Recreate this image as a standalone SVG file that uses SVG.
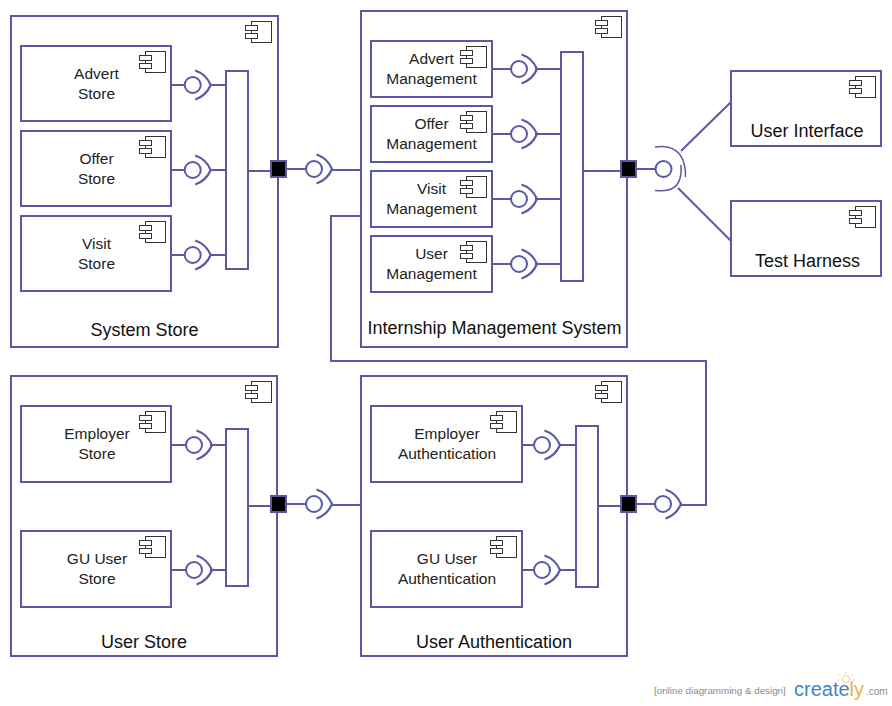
<svg xmlns="http://www.w3.org/2000/svg" width="892" height="706" viewBox="0 0 892 706">
<style>
.b{fill:#fff;stroke:#5b59a5;stroke-width:2}
.l{fill:none;stroke:#5b59a5;stroke-width:2}
.s{fill:none;stroke:#5b59a5;stroke-width:2.2}
.q{fill:#000;stroke:#5b59a5;stroke-width:2}
.i{fill:#fff;stroke:#333;stroke-width:1}
text{font-family:"Liberation Sans",Arial,sans-serif;fill:#222;text-anchor:middle}
.t{font-size:15.5px}
.h{font-size:18px;fill:#111}
</style>
<defs>
<g id="icon"><rect class="i" x="6" y="0" width="20" height="21"/><rect class="i" x="0" y="4" width="12" height="5"/><rect class="i" x="0" y="12" width="12" height="5"/></g>
<g id="ball"><circle class="l" cx="0" cy="0" r="8"/><path class="s" d="M2.5-14.5C10-12 15-7 18 0C15 7 10 12 2.5 14.5"/></g>
</defs>
<rect width="892" height="706" fill="#fff"/>
<g id="system-store"><rect class="b" x="11" y="16" width="267" height="331"/><use href="#icon" x="245.5" y="21.5"/><text class="h" x="144.500" y="336">System Store</text></g>
<g id="internship-management-system"><rect class="b" x="361" y="11" width="266" height="336"/><use href="#icon" x="595.5" y="16.5"/><text class="h" x="494.500" y="334">Internship Management System</text></g>
<g id="user-store"><rect class="b" x="11" y="376" width="266" height="280"/><use href="#icon" x="245.5" y="381.5"/><text class="h" x="144" y="648">User Store</text></g>
<g id="user-authentication"><rect class="b" x="361" y="376" width="266" height="280"/><use href="#icon" x="595.5" y="381.5"/><text class="h" x="494" y="648">User Authentication</text></g>
<g id="advert-store"><rect class="b" x="21" y="46" width="150" height="75"/><use href="#icon" x="139.5" y="51.5"/><text class="t" x="96.500" y="79">Advert</text><text class="t" x="96.500" y="99">Store</text></g>
<g id="offer-store"><rect class="b" x="21" y="131" width="150" height="75"/><use href="#icon" x="139.5" y="136.5"/><text class="t" x="96.500" y="164">Offer</text><text class="t" x="96.500" y="184">Store</text></g>
<g id="visit-store"><rect class="b" x="21" y="216" width="150" height="75"/><use href="#icon" x="139.5" y="221.5"/><text class="t" x="96.500" y="249">Visit</text><text class="t" x="96.500" y="269">Store</text></g>
<g id="advert-management"><rect class="b" x="371" y="41" width="121" height="56"/><use href="#icon" x="460.5" y="46.5"/><text class="t" x="431.500" y="64">Advert</text><text class="t" x="431.500" y="84">Management</text></g>
<g id="offer-management"><rect class="b" x="371" y="106" width="121" height="56"/><use href="#icon" x="460.5" y="111.5"/><text class="t" x="431.500" y="129">Offer</text><text class="t" x="431.500" y="149">Management</text></g>
<g id="visit-management"><rect class="b" x="371" y="171" width="121" height="56"/><use href="#icon" x="460.5" y="176.5"/><text class="t" x="431.500" y="194">Visit</text><text class="t" x="431.500" y="214">Management</text></g>
<g id="user-management"><rect class="b" x="371" y="236" width="121" height="56"/><use href="#icon" x="460.5" y="241.5"/><text class="t" x="431.500" y="259">User</text><text class="t" x="431.500" y="279">Management</text></g>
<g id="user-interface"><rect class="b" x="731" y="71" width="150" height="75"/><use href="#icon" x="849.5" y="76.5"/><text class="h" x="807" y="137">User Interface</text></g>
<g id="test-harness"><rect class="b" x="731" y="201" width="150" height="75"/><use href="#icon" x="849.5" y="206.5"/><text class="h" x="807.500" y="267">Test Harness</text></g>
<g id="employer-store"><rect class="b" x="21" y="406" width="150" height="76"/><use href="#icon" x="139.5" y="411.5"/><text class="t" x="97" y="439">Employer</text><text class="t" x="97" y="459">Store</text></g>
<g id="gu-user-store"><rect class="b" x="21" y="531" width="150" height="76"/><use href="#icon" x="139.5" y="536.5"/><text class="t" x="97" y="564">GU User</text><text class="t" x="97" y="584">Store</text></g>
<g id="employer-authentication"><rect class="b" x="371" y="406" width="151" height="76"/><use href="#icon" x="490.5" y="411.5"/><text class="t" x="447" y="439">Employer</text><text class="t" x="447" y="459">Authentication</text></g>
<g id="gu-user-authentication"><rect class="b" x="371" y="531" width="151" height="76"/><use href="#icon" x="490.5" y="536.5"/><text class="t" x="447" y="564">GU User</text><text class="t" x="447" y="584">Authentication</text></g>
<g id="connectors">
<path class="l" d="M171 85H185M210 85H226M171 170H185M210 170H226M171 255H185M210 255H226M248 171H271M286 169H306M331 170H361"/>
<path class="l" d="M492 69H511M535 69H561M492 134H511M535 134H561M492 199H511M535 199H561M492 264H511M535 264H561M583 171H620M636 169H655M681 151L731 102M678 188L731 241"/>
<path class="l" d="M171 445H186M210 445H226M171 570H186M210 570H226M248 506H271M286 504H306M331 505H361"/>
<path class="l" d="M522 445H534M560 445H576M522 570H534M560 570H576M598 506H620M636 504H655M681 505H706V361H331V216H361"/>
</g>
<g id="bars">
<rect class="b" x="226" y="71" width="22" height="198"/><rect class="b" x="561" y="52" width="22" height="229"/><rect class="b" x="226" y="429" width="22" height="157"/><rect class="b" x="576" y="426" width="22" height="161"/>
</g>
<g id="ports">
<rect class="q" x="271" y="161" width="15" height="16"/><rect class="q" x="621" y="161" width="15" height="16"/><rect class="q" x="271" y="496" width="15" height="16"/><rect class="q" x="621" y="496" width="15" height="16"/>
</g>
<g id="interfaces">
<use href="#ball" x="192.7" y="85"/><use href="#ball" x="192.7" y="170"/><use href="#ball" x="192.7" y="255"/><use href="#ball" x="314" y="169"/>
<use href="#ball" x="519" y="69"/><use href="#ball" x="519" y="134"/><use href="#ball" x="519" y="199"/><use href="#ball" x="519" y="264"/>
<use href="#ball" x="194" y="445"/><use href="#ball" x="194" y="570"/><use href="#ball" x="314" y="504"/>
<use href="#ball" x="542" y="445"/><use href="#ball" x="542" y="570"/><use href="#ball" x="663" y="504"/>
<circle class="l" cx="663.5" cy="169" r="8"/>
<path class="s" d="M655 147C668 145 686 148 685.5 177M655 190.500C668 192 683 190 681 165" style="stroke-width:1.500"/>
</g>
<g id="logo">
<text x="654" y="694" font-size="9.800" style="text-anchor:start;fill:#8a8a8a">[online diagramming &amp; design]</text>
<text x="794" y="696" font-size="20" style="text-anchor:start;fill:#3f86c4">create<tspan style="fill:#f0b23c">ly</tspan></text>
<text x="866" y="695" font-size="10" style="text-anchor:start;fill:#8a8a8a">.com</text>
<path d="M846 671.500V674M838.500 674L840.500 676M853.500 674L851.500 676M837 680H839M853 680H855" fill="none" stroke="#f5cf7a" stroke-width="1"/>
<circle cx="846" cy="679" r="3.500" fill="#fff" stroke="#f5cf7a" stroke-width="1"/>
</g>
</svg>
